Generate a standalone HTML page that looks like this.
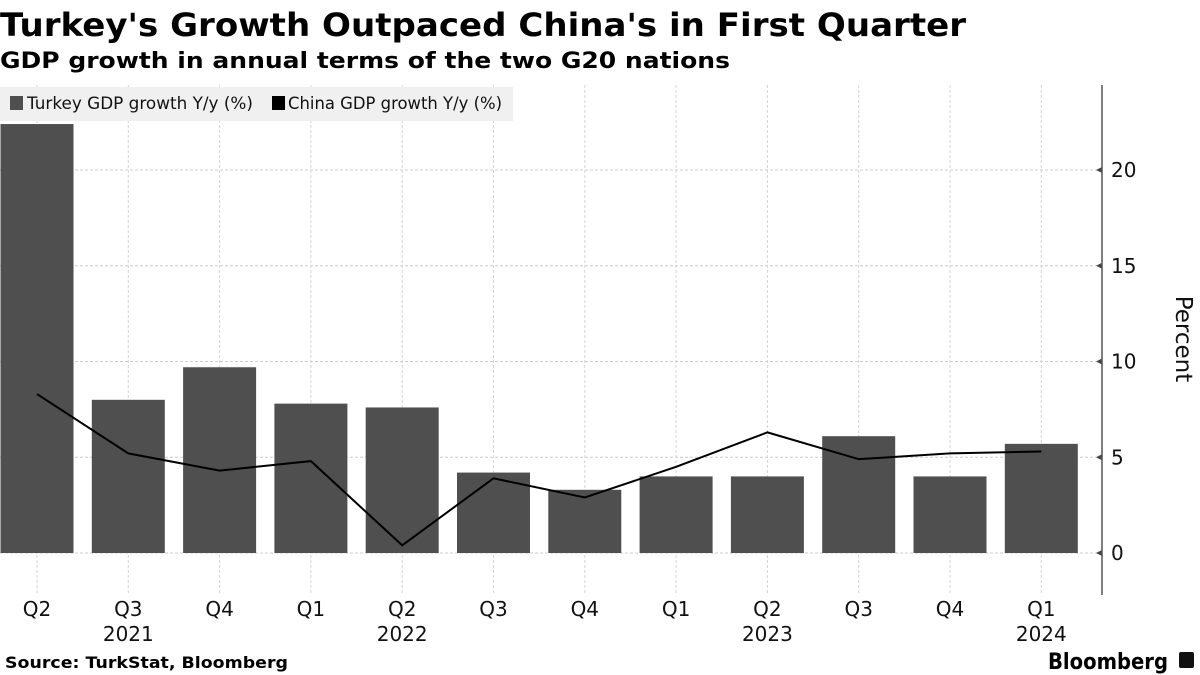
<!DOCTYPE html>
<html><head><meta charset="utf-8"><style>
html,body{margin:0;padding:0;background:#fff;width:1200px;height:675px;overflow:hidden}
svg{display:block}
text{font-family:"DejaVu Sans","Liberation Sans",sans-serif}
</style></head><body>
<svg id="chart" width="1200" height="675" viewBox="0 0 1200 675" xmlns="http://www.w3.org/2000/svg">
<text x="0" y="36" font-size="32" font-weight="bold" textLength="966" lengthAdjust="spacingAndGlyphs">Turkey's Growth Outpaced China's in First Quarter</text>
<text x="0" y="68" font-size="22" font-weight="bold" textLength="730" lengthAdjust="spacingAndGlyphs">GDP growth in annual terms of the two G20 nations</text>
<g id="grid"></g>
<g id="bars"></g>
<g id="line"></g>
<g id="axis"></g>
<g id="xaxis"></g>
<g>
<rect x="0" y="87" width="513" height="34" fill="#f0f0f0"/>
<rect x="10" y="96" width="13" height="14" fill="#4f4f4f"/>
<text x="27" y="109" font-size="17" fill="#111" textLength="226" lengthAdjust="spacingAndGlyphs">Turkey GDP growth Y/y (%)</text>
<rect x="272" y="96" width="13" height="14" fill="#000"/>
<text x="288" y="109" font-size="17" fill="#111" textLength="214" lengthAdjust="spacingAndGlyphs">China GDP growth Y/y (%)</text>
</g>
<text transform="translate(1176,339) rotate(90)" text-anchor="middle" font-size="23" fill="#111">Percent</text>
<text x="5" y="668" font-size="16" font-weight="bold" textLength="283" lengthAdjust="spacingAndGlyphs">Source: TurkStat, Bloomberg</text>
<text x="1048" y="669" font-size="22" font-weight="bold" font-family="Liberation Sans" textLength="120" lengthAdjust="spacingAndGlyphs">Bloomberg</text>
<rect x="1179" y="652" width="15" height="16" rx="2" fill="#111"/>
</svg>
<script>
const categories=["Q2","Q3","Q4","Q1","Q2","Q3","Q4","Q1","Q2","Q3","Q4","Q1"];
const yearLabels=["","2021","","","2022","","","","2023","","","2024"];
const turkey=[22.4,8.0,9.7,7.8,7.6,4.2,3.3,4.0,4.0,6.1,4.0,5.7];
const china=[8.3,5.2,4.3,4.8,0.4,3.9,2.9,4.5,6.3,4.9,5.2,5.3];
const yTicks=[0,5,10,15,20];
const NS="http://www.w3.org/2000/svg";
const x0=37,step=91.3,bw=73,axisX=1102;
const xs=i=>x0+i*step;
const ys=v=>553-v*19.15;
function mk(tag,attrs,parent){const e=document.createElementNS(NS,tag);for(const k in attrs)e.setAttribute(k,attrs[k]);parent.appendChild(e);return e;}
const grid=document.getElementById('grid'),bars=document.getElementById('bars'),line=document.getElementById('line'),axis=document.getElementById('axis'),xaxis=document.getElementById('xaxis');
yTicks.forEach(t=>{
  const l=mk('line',{x1:0,x2:axisX,y1:ys(t),y2:ys(t),stroke:'#cccccc','stroke-dasharray':'3,2','stroke-width':1},grid);
  
  
  const tk=mk('path',{d:`M${axisX} ${ys(t)-3}L${axisX-6} ${ys(t)}L${axisX} ${ys(t)+3}Z`,fill:'#444'},axis);
  
  
  const tx=mk('text',{x:axisX+9,y:ys(t)+7,'font-size':20,fill:'#111'},axis);
  tx.textContent=t;
  
  
});
const al=mk('line',{x1:axisX,x2:axisX,y1:85,y2:595,stroke:'#555','stroke-width':1.5},axis);


categories.forEach((c,i)=>{
  const v=mk('line',{x1:xs(i),x2:xs(i),y1:85,y2:595,stroke:'#d4d4d4','stroke-dasharray':'3,2','stroke-width':1},grid);
  
  
  const r=mk('rect',{x:xs(i)-bw/2,y:ys(turkey[i]),width:bw,height:ys(0)-ys(turkey[i]),fill:'#4f4f4f'},bars);
  
  
  const t=mk('text',{x:xs(i),y:616,'text-anchor':'middle','font-size':20,fill:'#111'},xaxis);
  t.textContent=c;
  
  
  if(yearLabels[i]){
    const y=mk('text',{x:xs(i),y:641,'text-anchor':'middle','font-size':20,fill:'#111'},xaxis);
    y.textContent=yearLabels[i];
    
    
  }
});
const pl=mk('polyline',{points:china.map((v,i)=>xs(i)+','+ys(v)).join(' '),fill:'none',stroke:'#000','stroke-width':2},line);


</script>
</body></html>
